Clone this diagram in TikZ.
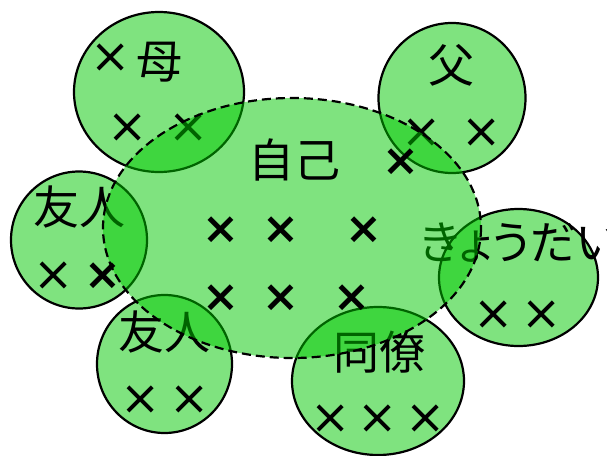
\documentclass[tikz,border=0pt]{standalone}
\usepackage{fontspec}
\newfontfamily\jp{Noto Sans CJK JP}
\newfontfamily\jpp[RawFeature=+palt]{Noto Sans CJK JP}
\newfontfamily\crossfont{DejaVu Sans}
\definecolor{grn}{RGB}{0,200,0}
\tikzset{
  circ/.style={draw=black, line width=2.2pt, fill=grn, fill opacity=0.5, draw opacity=1},
  self/.style={draw=black, line width=2.2pt, dash pattern=on 9pt off 5pt, fill=grn, fill opacity=0.5, draw opacity=1},
  lbl/.style={inner sep=0pt, font=\jp\fontsize{46}{46}\selectfont},
  xthin/.style={inner sep=0pt, font=\crossfont\fontsize{48}{48}\selectfont},
  xbold/.style={inner sep=0pt, font=\crossfont\bfseries\fontsize{44}{44}\selectfont}
}
\begin{document}
\begin{tikzpicture}[x=1pt,y=-1pt]
\useasboundingbox (0,0) rectangle (607,455);
% outer circles
\path[circ] (159,92) ellipse [x radius=85, y radius=80];
\path[circ] (452,98) ellipse [x radius=73.5, y radius=75];
\path[circ] (79,240) ellipse [x radius=68, y radius=68.5];
\path[circ] (164.5,364) ellipse [x radius=67.5, y radius=69];
\path[circ] (518.5,277.5) ellipse [x radius=79.5, y radius=68.5];
\path[circ] (378,381) ellipse [x radius=86, y radius=74];
% circle labels
\node[lbl] (haha) at (159,62) {母};
\node[lbl] (chichi) at (451,65) {父};
\node[lbl] (yujinL) at (79,207) {友人};
\node[lbl] (yujinB) at (164.5,332) {友人};
\node[lbl, anchor=west, font=\jpp\fontsize{46}{46}\selectfont] (kyodai) at (419,243) {きょうだい};
\node[lbl] (doryo) at (379,352) {同僚};
% circle crosses
\node[xthin] (m1) at (111,58) {×};
\node[xthin] (m2) at (128,128) {×};
\node[xthin] (m3) at (188.5,128) {×};
\node[xthin] (f1) at (422,133) {×};
\node[xthin] (f2) at (482,133) {×};
\node[xthin] (l1) at (54,276) {×};
\node[xthin] (b1) at (141,400) {×};
\node[xthin] (b2) at (190,400) {×};
\node[xthin] (k1) at (493.5,315) {×};
\node[xthin] (k2) at (542,315) {×};
\node[xthin] (d1) at (331,419) {×};
\node[xthin] (d2) at (377.5,419) {×};
\node[xthin] (d3) at (426,419) {×};
% self ellipse
\path[self] (292,228) ellipse [x radius=189, y radius=130];
\node[lbl] (jiko) at (294,160) {自己};
\node[xbold] (s1) at (220.5,230) {×};
\node[xbold] (s2) at (280.5,230) {×};
\node[xbold] (s3) at (364,230) {×};
\node[xbold] (s4) at (220.5,298) {×};
\node[xbold] (s5) at (280.5,298) {×};
\node[xbold] (s6) at (352,298) {×};
\node[xbold] (s7) at (400.5,162) {×};
\node[xbold] (s8) at (102.5,276) {×};
\end{tikzpicture}
\end{document}
